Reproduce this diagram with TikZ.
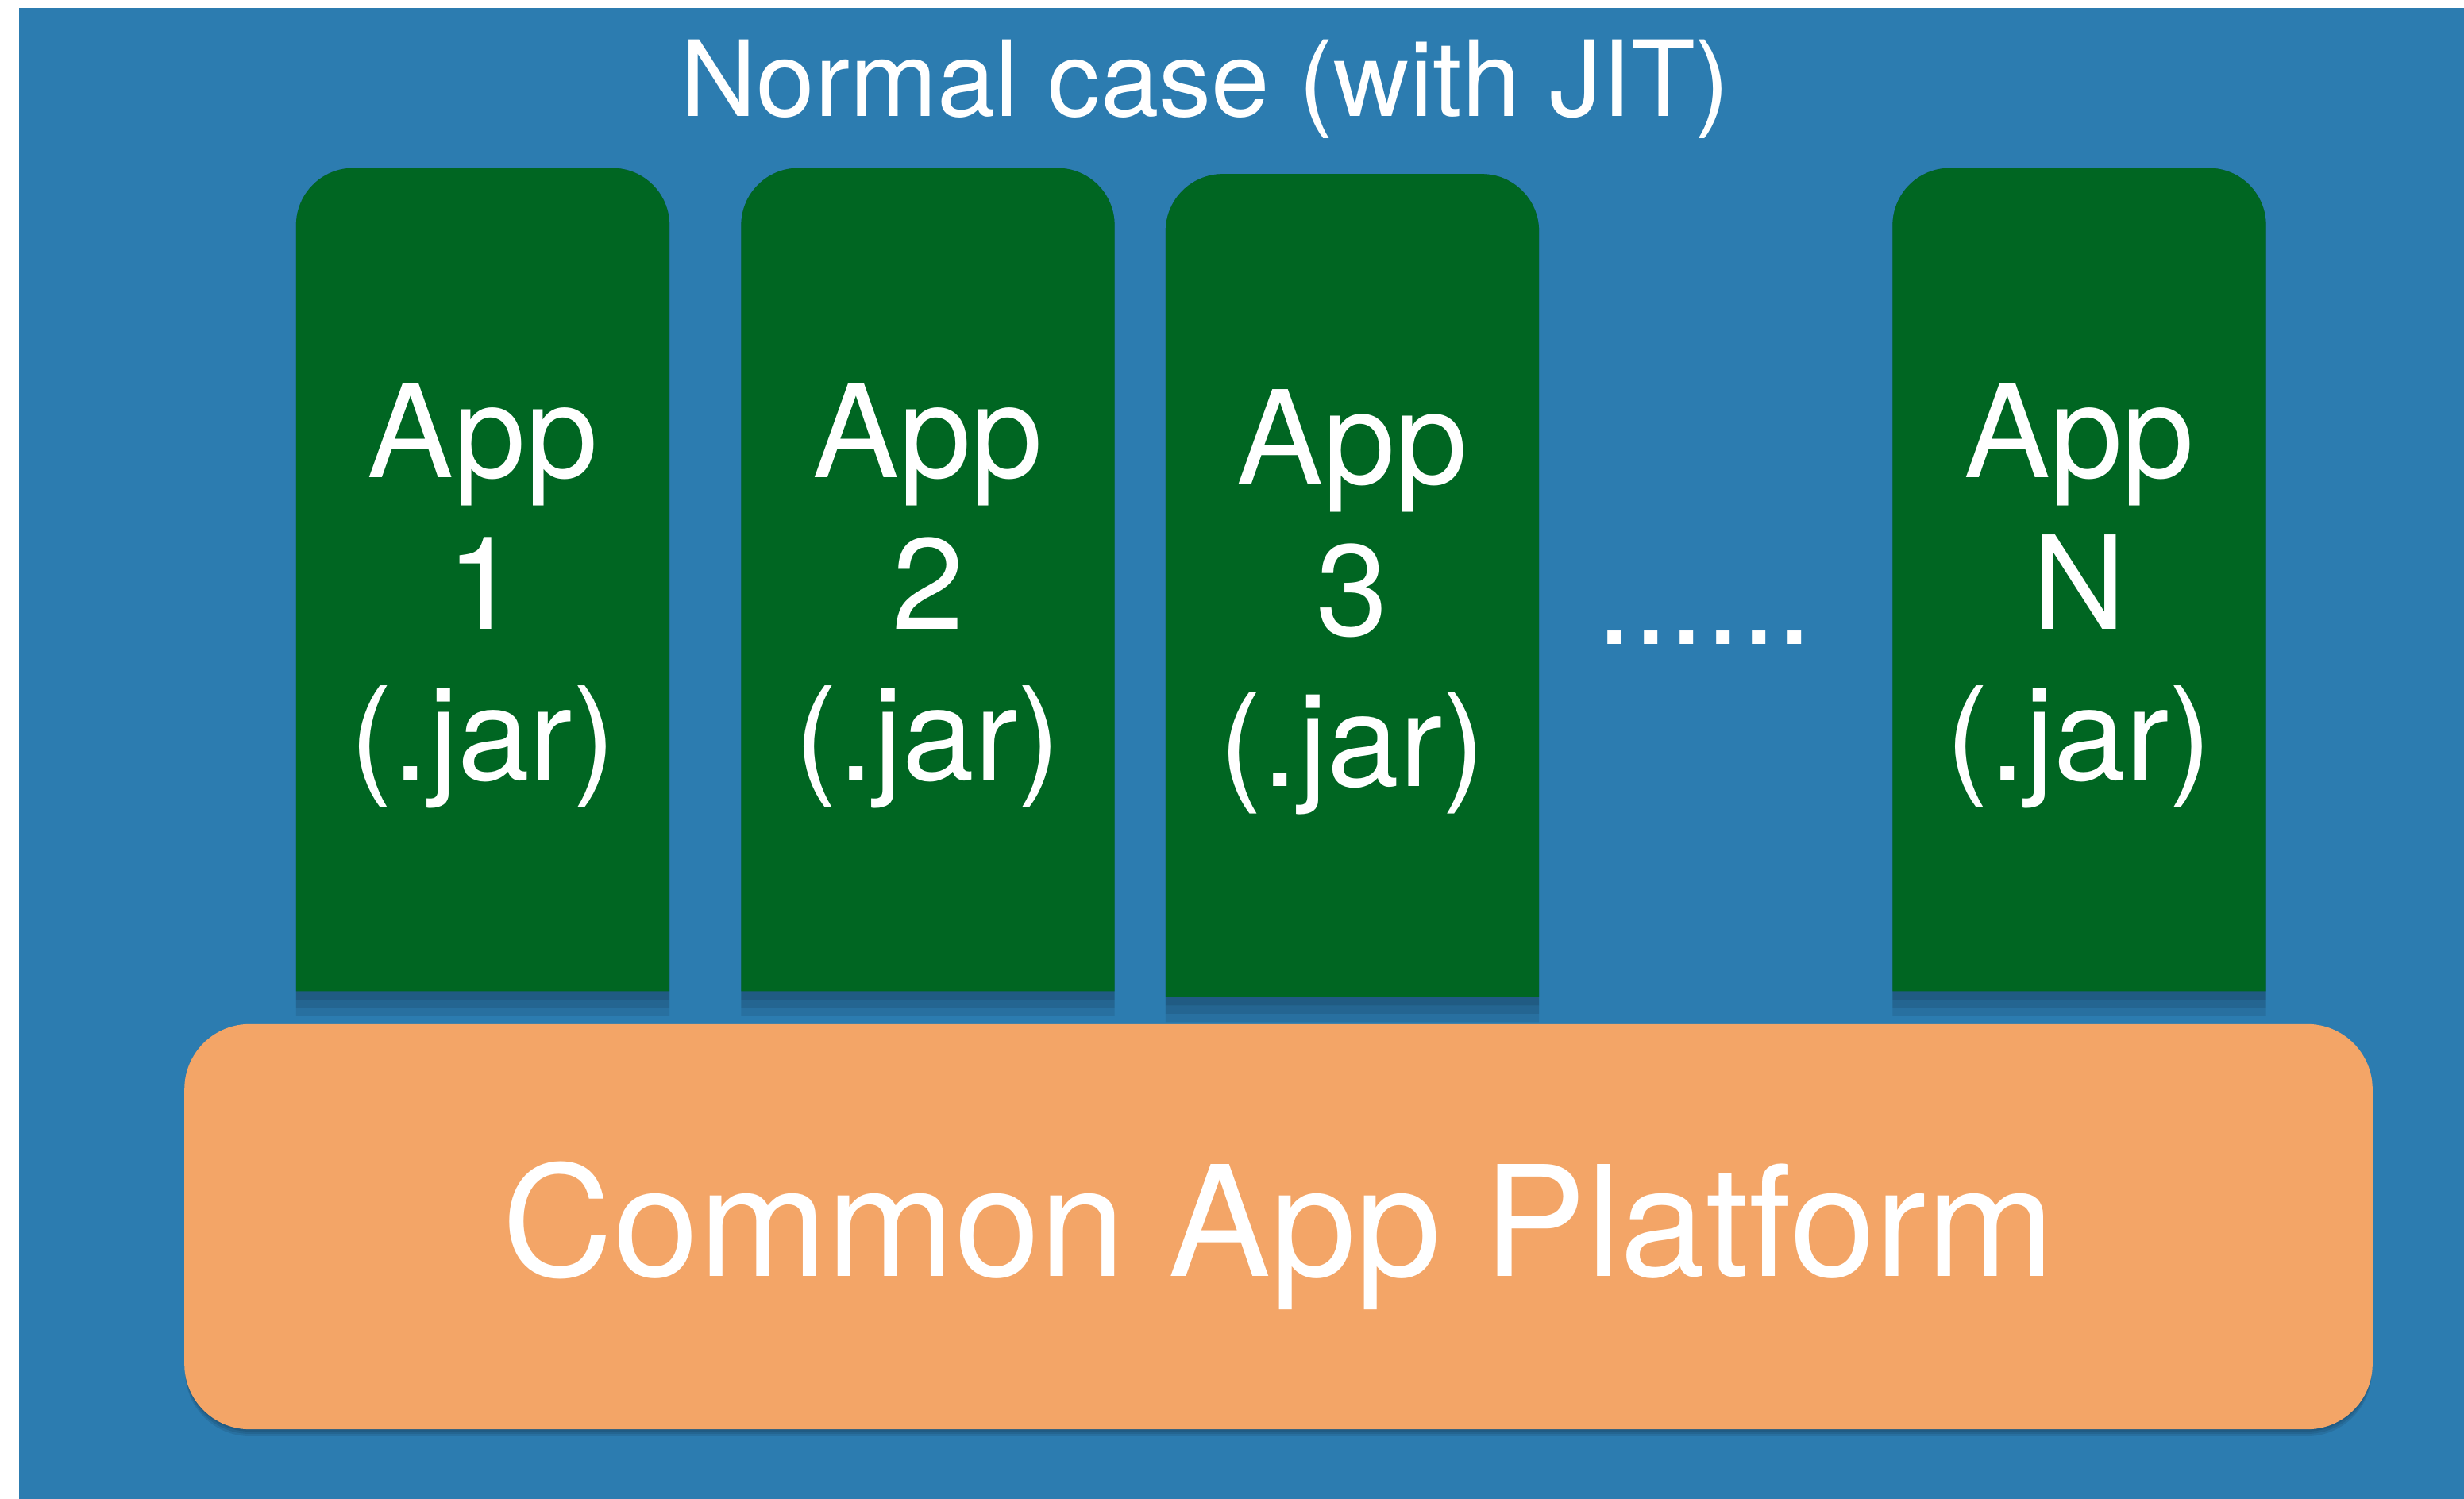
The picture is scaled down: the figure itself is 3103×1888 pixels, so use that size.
\documentclass[tikz,border=0pt]{standalone}
\usepackage{fontspec}
\setmainfont{TeX Gyre Heros}
\definecolor{slideblue}{RGB}{44,124,176}
\definecolor{appgreen}{RGB}{0,102,34}
\definecolor{platformorange}{RGB}{243,165,103}
\begin{document}
\begin{tikzpicture}[x=0.01cm,y=0.01cm,
  appslot/.style={minimum width=4.70cm,minimum height=10.36cm,inner sep=0pt,outer sep=0pt},
  applabel/.style={text=white,align=center,inner sep=0pt,
    font=\fontsize{46.4pt}{54.3pt}\selectfont},
  titletext/.style={text=white,inner sep=0pt,font=\fontsize{37.6pt}{45pt}\selectfont},
  platform/.style={fill=platformorange,rounded corners=0.82cm,minimum width=27.54cm,
    minimum height=5.10cm,inner sep=0pt},
  shade/.style={fill=black,opacity=0.09}
]
% page and slide background
\useasboundingbox (0,0) rectangle (3103,1888);
\fill[white] (0,0) rectangle (3103,1888);
\fill[slideblue] (24,0) rectangle (3103,1878);

\node[titletext,anchor=base] (title) at (1518,1741) {Normal case (with JIT)};

% application slots (rounded on top, square at the bottom)
\node[appslot] (a1) at (608,1158) {};
\node[appslot] (a2) at (1168.5,1158) {};
\node[appslot] (a3) at (1703,1150.5) {};
\node[appslot] (aN) at (2618.5,1158) {};
\foreach \s in {a1,a2,a3,aN}{
  \foreach \d in {3,6,9}{
    \fill[shade] ([yshift=-\d]\s.south west) -- ([yshift=-0.72cm]\s.north west)
      arc[start angle=180,end angle=90,radius=0.72cm]
      -- ([xshift=-0.72cm]\s.north east)
      arc[start angle=90,end angle=0,radius=0.72cm]
      -- ([yshift=-\d]\s.south east) -- cycle;
  }
  \fill[appgreen] (\s.south west) -- ([yshift=-0.72cm]\s.north west)
    arc[start angle=180,end angle=90,radius=0.72cm]
    -- ([xshift=-0.72cm]\s.north east)
    arc[start angle=90,end angle=0,radius=0.72cm]
    -- (\s.south east) -- cycle;
}
% labels: anchored on the baseline of their last line
\node[applabel,anchor=base] (l1) at (608,905) {App\\1\\(.jar)};
\node[applabel,anchor=base] (l2) at (1168.5,905) {App\\2\\(.jar)};
\node[applabel,anchor=base] (l3) at (1703,897) {App\\3\\(.jar)};
\node[applabel,anchor=base] (lN) at (2618.5,905) {App\\N\\(.jar)};
\node[applabel,anchor=base] (dots) at (2147,1076) {......};

% shared platform underneath
\foreach \d in {3,6,9}{
  \fill[shade,rounded corners=0.82cm] (233,{88-\d}) rectangle (2987,{598-\d});
}
\node[platform] (plat) at (1610,343) {};
\node[text=white,inner sep=0pt,anchor=base,font=\fontsize{55pt}{66pt}\selectfont] (platlabel) at (1610,280) {Common App Platform};
\end{tikzpicture}
\end{document}
